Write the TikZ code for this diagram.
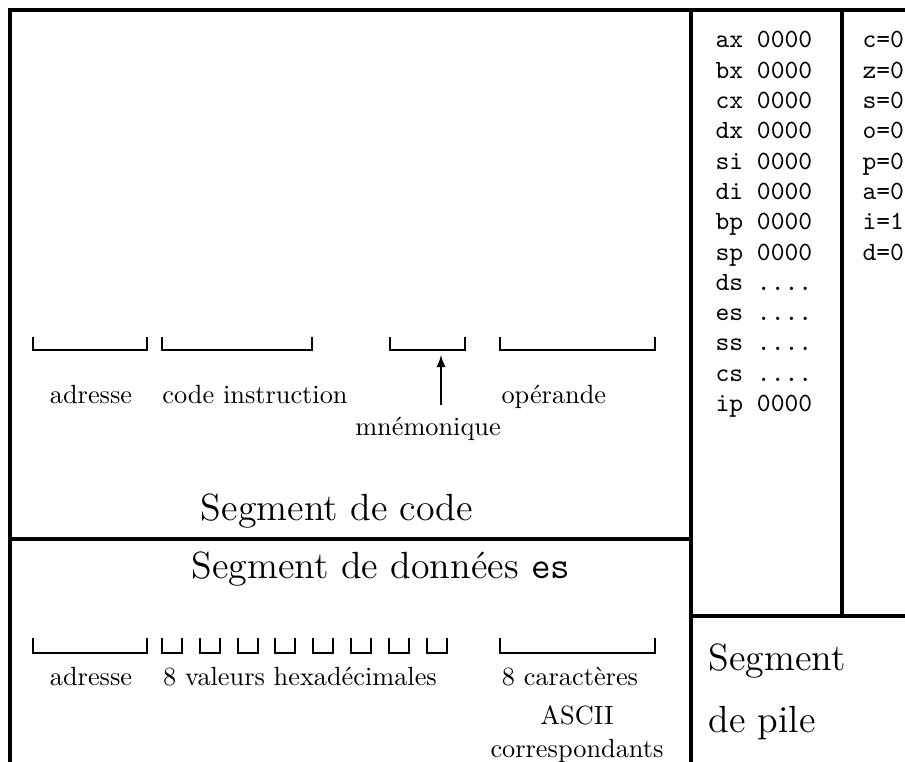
\documentclass[tikz,border=0pt]{standalone}
\begin{document}
\begin{tikzpicture}[x=0.38pt,y=-0.38pt,
  frame/.style={line width=1.15pt},
  brk/.style={line width=0.8pt},
  lbl/.style={inner sep=0pt, anchor=base},
  reg/.style={inner sep=0pt, anchor=base west, font=\ttfamily}]
\useasboundingbox (0,0) rectangle (905,762);
\clip (0,0) rectangle (905,762);
% frame
\draw[frame] (10,780) -- (10,10) -- (920,10);
\draw[frame] (691,10) -- (691,780);
\draw[frame] (842,10) -- (842,616);
\draw[frame] (10,539) -- (691,539);
\draw[frame] (691,616) -- (920,616);
% registers
\foreach \r [count=\i from 0] in {ax 0000,bx 0000,cx 0000,dx 0000,si 0000,di 0000,bp 0000,sp 0000,ds {....},es {....},ss {....},cs {....},ip 0000}
  \node[reg] (reg\i) at (715,{48+30.3*\i}) {\r};
\foreach \f [count=\i from 0] in {c=0,z=0,s=0,o=0,p=0,a=0,i=1,d=0}
  \node[reg] (flag\i) at (862,{48+30.3*\i}) {\f};
% code segment brackets
\foreach \a/\b in {33/147,162/312,390/465,500/655}
  \draw[brk] (\a,337) -- (\a,350) -- (\b,350) -- (\b,337);
\node[lbl] (adr1) at (91,404) {adresse};
\node[lbl] (codeinstr) at (255,404) {code instruction};
\node[lbl] (mnemo) at (428,436) {mnémonique};
\node[lbl, anchor=base west] (operande) at (501,404) {opérande};
\coordinate (arrowfoot) at (441,405);
\coordinate (arrowtip) at (441,355);
\draw[line width=0.6pt,-latex] (arrowfoot) -- (arrowtip);
\node[lbl,font=\Large] (segcode) at (337,520) {Segment de code};
% data segment
\node[lbl,font=\Large] (segdata) at (381,578) {Segment de données \texttt{es}};
\foreach \a/\b in {33/147,162/182,200/220,238/258,275/295,313/333,351/371,389/409,427/447,500/655}
  \draw[brk] (\a,638) -- (\a,653) -- (\b,653) -- (\b,638);
\node[lbl] (adr2) at (91,685) {adresse};
\node[lbl] (hexa) at (300,685) {8 valeurs hexadécimales};
\node[lbl] (car) at (570,685) {8 caractères};
\node[lbl] (ascii) at (577,724) {ASCII};
\node[lbl] (corr) at (577,757) {correspondants};
% stack segment
\node[lbl,font=\Large,anchor=base west] (segpile1) at (708,670) {Segment};
\node[lbl,font=\Large,anchor=base west] (segpile2) at (708,732) {de pile};
\end{tikzpicture}
\end{document}
